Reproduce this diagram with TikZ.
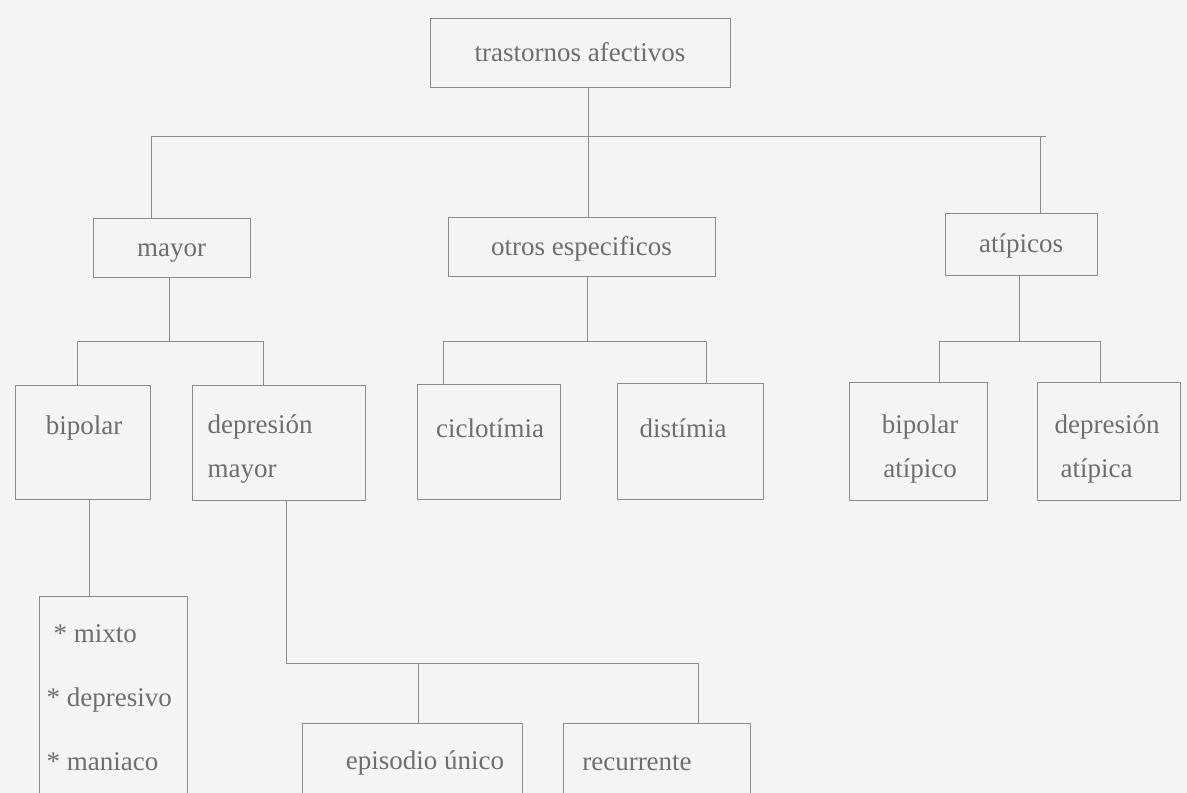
\documentclass[tikz,border=0pt]{standalone}
\usepackage{fontspec}
\setmainfont{Liberation Serif}
\definecolor{ink}{HTML}{6E6E6E}
\definecolor{pen}{HTML}{8C8C8C}
\definecolor{paper}{HTML}{F4F4F4}
\begin{document}
\begin{tikzpicture}[x=1pt, y=-1pt,
  box/.style={draw=pen, line width=0.9pt, inner sep=0pt},
  txt/.style={text=ink, font=\fontsize{27}{44}\selectfont},
  oneline/.style={text height=17pt, text depth=0pt},
  link/.style={draw=pen, line width=0.9pt}]
\useasboundingbox (0,0) rectangle (1187,793);
\fill[paper] (0,0) rectangle (1187,793);
% top levels
\node[box, txt, oneline, minimum width=300, minimum height=69] (root) at (580,52.5) {trastornos afectivos};
\node[box, txt, oneline, minimum width=157, minimum height=59] (mayor) at (171.5,247.5) {mayor};
\node[box, txt, oneline, minimum width=267, minimum height=59] (otros) at (581.5,246.5) {otros especificos};
\node[box, txt, oneline, minimum width=152, minimum height=62] (atipicos) at (1021,244) {atípicos};
% second row boxes
\node[box, minimum width=135, minimum height=114] (bipolar) at (82.5,442) {};
\node[box, minimum width=173, minimum height=115] (depmay) at (278.5,442.5) {};
\node[box, minimum width=143, minimum height=115] (ciclo) at (488.5,441.5) {};
\node[box, minimum width=146, minimum height=116] (dist) at (690,441) {};
\node[box, minimum width=138, minimum height=118] (bipat) at (918,441) {};
\node[box, minimum width=143, minimum height=118] (depat) at (1108.5,441) {};
\node[txt] (bipolar-t) at (84,428) {bipolar};
\node[txt, align=left, anchor=west] (depmay-t) at (204,449) {depresión\\mayor};
\node[txt] (ciclo-t) at (490,428) {ciclotímia};
\node[txt] (dist-t) at (683,428) {distímia};
\node[txt, align=center] (bipat-t) at (920,449) {bipolar\\atípico};
\node[txt, align=left, anchor=west] (depat-t) at (1051,449) {depresión\\\hspace{6pt}atípica};
% bottom boxes (cut by the page)
\node[box, minimum width=148, minimum height=234] (mixto) at (113,713) {};
\node[txt, align=left, anchor=west, font=\fontsize{27}{64}\selectfont] (mixto-t) at (43,698) {\hspace{7pt}* mixto\\* depresivo\\* maniaco};
\node[box, minimum width=220, minimum height=127] (episodio) at (412,786.5) {};
\node[box, minimum width=187, minimum height=127] (recurrente) at (656.5,786.5) {};
\node[txt] (episodio-t) at (425,763) {episodio único};
\node[txt] (recurrente-t) at (637,763) {recurrente};
% top bus
\coordinate (top-l) at (151,136);
\coordinate (top-m) at (588,136);
\coordinate (top-a) at (1040,136);
\coordinate (top-r) at (1046,136);
\draw[link] (top-l) -- (top-r);
\draw[link] (root.south -| top-m) -- (otros.north -| top-m);
\draw[link] (top-l) -- (top-l |- mayor.north);
\draw[link] (top-a) -- (top-a |- atipicos.north);
% middle buses
\foreach \up/\jx/\lx/\rx/\kidl/\kidr in {mayor/169/77/263/bipolar/depmay, otros/587/443/706/ciclo/dist, atipicos/1019/939/1100/bipat/depat} {
  \coordinate (\up-j) at (\jx,341);
  \coordinate (\up-l) at (\lx,341);
  \coordinate (\up-r) at (\rx,341);
  \draw[link] (\up.south -| \up-j) -- (\up-j);
  \draw[link] (\up-l) -- (\up-r);
  \draw[link] (\up-l) -- (\up-l |- \kidl.north);
  \draw[link] (\up-r) -- (\up-r |- \kidr.north);
}
% lower links
\coordinate (bip-j) at (89,560);
\draw[link] (bipolar.south -| bip-j) -- (mixto.north -| bip-j);
\coordinate (dep-j) at (286,663);
\coordinate (dep-m) at (418,663);
\coordinate (dep-r) at (698,663);
\draw[link] (depmay.south -| dep-j) -- (dep-j) -- (dep-r);
\draw[link] (dep-m) -- (dep-m |- episodio.north);
\draw[link] (dep-r) -- (dep-r |- recurrente.north);
\end{tikzpicture}
\end{document}
